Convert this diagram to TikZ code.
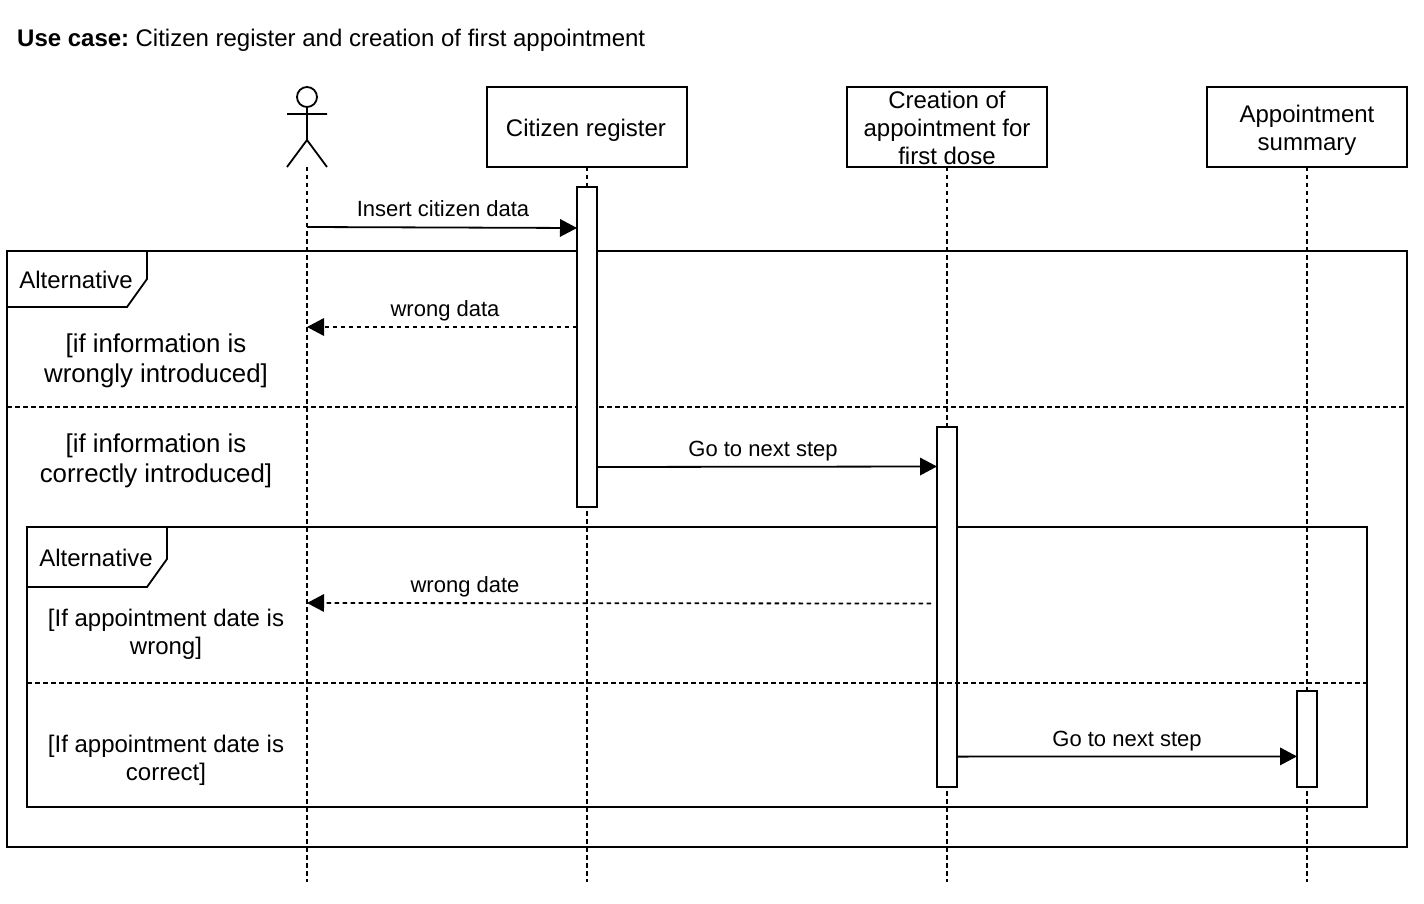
\documentclass[tikz,border=0pt]{standalone}
\usepackage{fontspec}
\setmainfont{Liberation Sans}
\usetikzlibrary{arrows.meta}
\newcommand{\boxline}[1]{\raisebox{-10pt}[0pt][0pt]{#1}}
\tikzset{
 x=1pt,y=-1pt,
 life/.style={line width=1.7pt,dash pattern=on 4.5pt off 3.5pt},
 box/.style={draw,line width=1.8pt,outer sep=0pt,fill=white,minimum width=200pt,minimum height=80pt,align=center,font=\fontsize{24}{28}\selectfont,inner sep=0pt},
 act/.style={draw,line width=1.8pt,outer sep=0pt,fill=white,minimum width=20pt,inner sep=0pt,anchor=north},
 msg/.style={line width=1.8pt,-{Triangle[length=17pt,width=17.5pt]}},
 ret/.style={msg,dash pattern=on 4.5pt off 3.5pt},
 lbl/.style={font=\fontsize{22}{26}\selectfont,inner sep=0pt,anchor=center},
 alt/.style={font=\fontsize{24}{28}\selectfont,inner sep=0pt},
 cond/.style={font=\fontsize{25.8}{30}\selectfont,align=center,inner sep=0pt},
 cond2/.style={font=\fontsize{24}{28}\selectfont,align=center,inner sep=0pt},
 frm/.style={draw,line width=1.8pt,outer sep=0pt,inner sep=0pt,anchor=north west},
 fig/.style={line width=1.8pt},
}
\begin{document}
\begin{tikzpicture}
\useasboundingbox[fill=white] (0,0) rectangle (1424,904);
\node[anchor=base west,inner sep=0pt,font=\fontsize{24}{28}\selectfont] (title) at (17,47) {\textbf{Use case:}\hspace{-2.5pt} Citizen register and creation of first appointment};
% frames
\node[frm,minimum width=1400pt,minimum height=596pt] (outer) at (7,251) {};
\node[frm,minimum width=1340pt,minimum height=280pt] (inner) at (27,527) {};
% frame tabs
\coordinate (t1a) at (147,251);\coordinate (t1b) at (147,279);\coordinate (t1c) at (127,307);\coordinate (t1d) at (7,307);
\draw[fig,fill=white] (outer.north west)--(t1a)--(t1b)--(t1c)--(t1d)--cycle;
\coordinate (t2a) at (167,527);\coordinate (t2b) at (167,559);\coordinate (t2c) at (147,587);\coordinate (t2d) at (27,587);
\draw[fig,fill=white] (inner.north west)--(t2a)--(t2b)--(t2c)--(t2d)--cycle;
\node[alt] (alt1) at (76,280) {Alternative};
\node[alt] (alt2) at (96,558) {Alternative};
% lifelines
\coordinate (e0) at (307,882);\coordinate (e1) at (587,882);\coordinate (e2) at (947,882);\coordinate (e3) at (1307,882);
\coordinate (s0) at (307,167);
\node[box] (b1) at (587,127) {\boxline{\hspace*{-2pt}Citizen register}};
\node[box] (b2) at (947,127) {\boxline{Creation of}\\\boxline{appointment for}\\\boxline{first dose}};
\node[box] (b3) at (1307,127) {\boxline{Appointment}\\\boxline{summary}};
\draw[life] (s0)--(e0);
\draw[life] (b1.south)--(e1);
\draw[life] (b2.south)--(e2);
\draw[life] (b3.south)--(e3);
% actor
\node[draw,circle,line width=1.8pt,outer sep=0pt,minimum size=20pt,inner sep=0pt] (head) at (307,97) {};
\coordinate (hip) at (307,140);
\draw[fig] (head.south)--(hip);
\coordinate (al) at (287,114);\coordinate (ar) at (327,114);
\coordinate (ll) at (287,167);\coordinate (lr) at (327,167);
\draw[fig] (al)--(ar) (ll)--(hip)--(lr);
% dividers and activations
\coordinate (d1l) at (7,407);\coordinate (d1r) at (1407,407);
\coordinate (d2l) at (27,683);\coordinate (d2r) at (1367,683);
\draw[life] (d1l)--(d1r);
\node[act,minimum height=320pt] (a1) at (587,187) {};
\node[act,minimum height=360pt] (a2) at (947,427) {};
\node[act,minimum height=96pt] (a3) at (1307,691) {};
\draw[life] (d2l)--(d2r);
% messages
\coordinate (m1s) at (307,227);
\coordinate (m2t) at (307,327);
\coordinate (m3t) at (307,603);
\coordinate (m3s) at (931,603.5);
\draw[msg] (m1s)--(a1.west|-0,228);
\node[lbl] (t1) at (443,209) {Insert citizen data};
\draw[ret] (a1.west|-0,327)--(m2t);
\node[lbl] (t2) at (445,310.5) {wrong data};
\draw[msg] (a1.east|-0,467)--(a2.west|-0,466.5);
\node[lbl] (t3) at (763,451.5) {Go to next step};
\draw[ret] (m3s)--(m3t);
\node[lbl] (t4) at (465,586.5) {wrong date};
\draw[msg] (a2.east|-0,756.6)--(a3.west|-0,756.4);
\node[lbl] (t5) at (1127,741.5) {Go to next step};
% conditions
\node[cond] (c1) at (156,360.5) {[if information is\\wrongly introduced]};
\node[cond] (c2) at (156,460.5) {[if information is\\correctly introduced]};
\node[cond2] (c3) at (166,634.5) {[If appointment date is\\wrong]};
\node[cond2] (c4) at (166,760.5) {[If appointment date is\\correct]};
\end{tikzpicture}
\end{document}
